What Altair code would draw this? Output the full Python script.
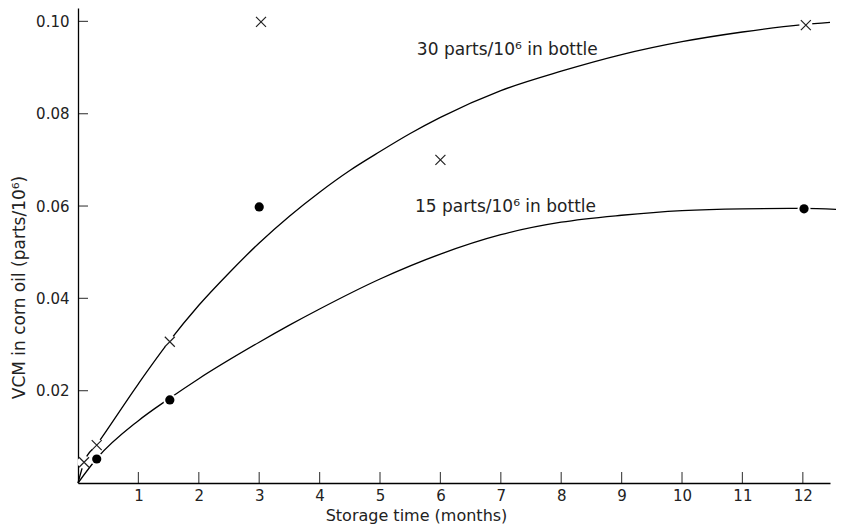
import altair as alt
import pandas as pd

# ---- data ----
# fitted curves (months, parts/10^6)
curve30_x = [0, 0.1, 0.31, 1, 1.5, 2, 2.5, 3, 3.5, 4, 4.5, 5, 5.5, 6, 7, 8, 9, 10, 11, 12, 12.45]
curve30_y = [0, 0.0045, 0.0083, 0.0215, 0.0305, 0.0385, 0.0455, 0.052, 0.0578, 0.063, 0.0677,
             0.0718, 0.0757, 0.0792, 0.085, 0.0892, 0.0928, 0.0956, 0.0977, 0.0993, 0.0998]
curve15_x = [0, 0.31, 1, 1.5, 2, 3, 3.5, 4, 5, 6, 7, 8, 9, 10, 11, 12, 12.7]
curve15_y = [0, 0.0053, 0.0135, 0.0182, 0.0226, 0.0305, 0.0342, 0.0377, 0.0442, 0.0496, 0.0538,
             0.0565, 0.058, 0.059, 0.0594, 0.0595, 0.0592]

# measured points
x30_months = [0.1, 0.31, 1.52, 3.03, 6.0, 12.05]
x30_values = [0.0045, 0.0082, 0.0306, 0.0999, 0.070, 0.0992]
dot15_months = [0.31, 1.52, 3.0, 12.02]
dot15_values = [0.0052, 0.018, 0.0598, 0.0594]

label_texts = ["30 parts/10\u2076 in bottle", "15 parts/10\u2076 in bottle"]
label_x = [5.61, 5.58]
label_y = [0.0938, 0.0598]

x_ticks = list(range(1, 13))
y_ticks = [0.02, 0.04, 0.06, 0.08, 0.10]

FONT = "DejaVu Sans"
INK = "#222222"

curves = pd.DataFrame(
    {"m": curve30_x + curve15_x,
     "v": curve30_y + curve15_y,
     "series": ["30"] * len(curve30_x) + ["15"] * len(curve15_x),
     "order": list(range(len(curve30_x))) + list(range(len(curve15_x)))}
)
xs = pd.DataFrame({"m": x30_months, "v": x30_values})
dots = pd.DataFrame({"m": dot15_months, "v": dot15_values})
allpts = pd.concat([xs, dots], ignore_index=True)
labels = pd.DataFrame({"t": label_texts, "m": label_x, "v": label_y})
xt = pd.DataFrame({"m": x_ticks})
yt = pd.DataFrame({"v": y_ticks})

xscale = alt.Scale(domain=[0, 12.45], nice=False, zero=False)
yscale = alt.Scale(domain=[0, 0.1029], nice=False, zero=False)

xaxis = alt.Axis(values=x_ticks, format="d", ticks=False, grid=False, labelPadding=5,
                 title="Storage time (months)", titleX=338, titleY=37, titleFontSize=16,
                 titleBaseline="alphabetic", titleAlign="center", titleAnchor="start")
yaxis = alt.Axis(values=y_ticks, format=".2f", ticks=False, grid=False, labelPadding=9,
                 title="VCM in corn oil (parts/10\u2076)", titleX=-59, titleY=279,
                 titleAngle=-90, titleAlign="center", titleBaseline="middle",
                 titleAnchor="start", titleFontSize=17)

X = lambda: alt.X("m:Q", scale=xscale, axis=xaxis)
Y = lambda: alt.Y("v:Q", scale=yscale, axis=yaxis)

lines = alt.Chart(curves).mark_line(color="black", strokeWidth=1.3, interpolate="monotone").encode(
    x=X(), y=Y(), detail="series:N", order="order:Q"
)
halo = alt.Chart(allpts).mark_circle(color="white", opacity=1, size=170).encode(x=X(), y=Y())
xmarks = alt.Chart(xs).mark_point(
    shape="M-1,-1L1,1M-1,1L1,-1", filled=False, size=100, stroke=INK, strokeWidth=1.2, opacity=1
).encode(x=X(), y=Y())
dmarks = alt.Chart(dots).mark_circle(color="black", size=85, opacity=1).encode(x=X(), y=Y())
texts = alt.Chart(labels).mark_text(
    align="left", baseline="middle", font=FONT, fontSize=17, color=INK
).encode(x=X(), y=Y(), text="t:N")
xtick = alt.Chart(xt).mark_tick(orient="vertical", size=11, thickness=1.2, color="black", yOffset=-5.5).encode(
    x=X(), y=alt.datum(0)
)
ytick = alt.Chart(yt).mark_tick(orient="horizontal", size=10, thickness=1.2, color="black", xOffset=5).encode(
    y=Y(), x=alt.datum(0)
)

chart = alt.layer(lines, halo, xmarks, dmarks, texts, xtick, ytick).properties(
    width=752, height=475,
    autosize=alt.AutoSizeParams(type="none"),
    padding={"left": 70, "top": 0, "right": 6, "bottom": 46},
).configure_view(stroke=None).configure_axis(
    domainColor="black", domainWidth=1.3, labelFont=FONT, labelFontSize=15, labelColor=INK,
    titleFont=FONT, titleFontSize=14, titleColor=INK, titleFontWeight="normal"
)

chart.save("out.html", embed_options={"renderer": "svg", "actions": False})
